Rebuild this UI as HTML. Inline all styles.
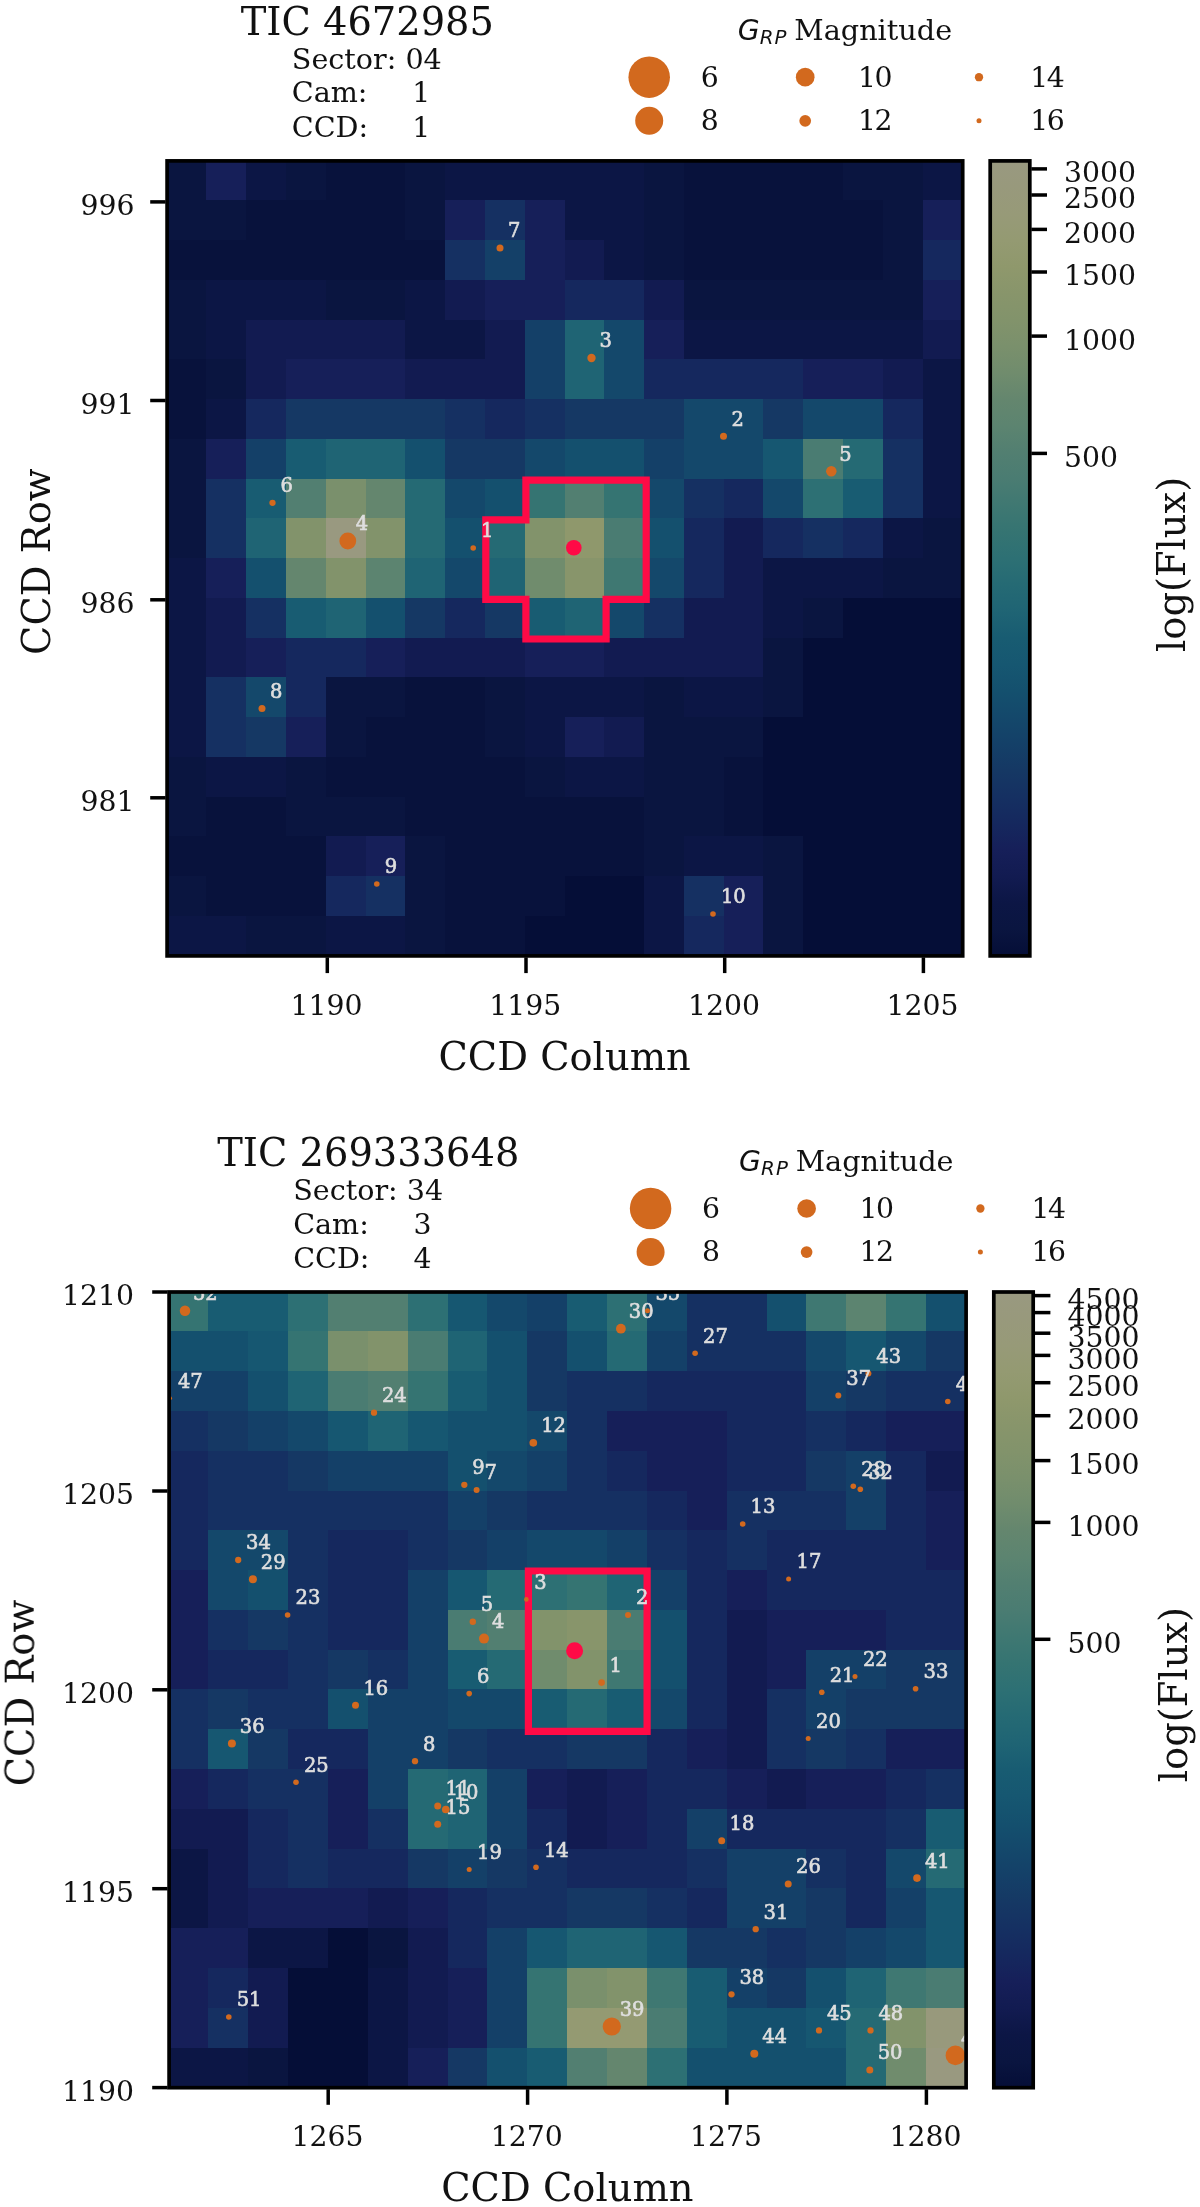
<!DOCTYPE html>
<html lang="en"><head><meta charset="utf-8"><title>TESS target pixel files</title>
<style>html,body{margin:0;padding:0;background:#fff}svg{display:block}text{font-family:'DejaVu Serif','Liberation Serif',serif;fill:#111}.t28{font-size:28.3px}.th{font-size:28.6px}.t38{font-size:38.4px}.sl{font-size:19.5px;fill:#dedede;stroke:#dedede;stroke-width:.65px}.sp{stroke:#000;stroke-width:3.7;fill:none}.tk{stroke:#000;stroke-width:3.5}</style></head><body>
<svg width="1200" height="2207" viewBox="0 0 1200 2207">
<defs><linearGradient id="cb" x1="0" y1="1" x2="0" y2="0">
<stop offset="0.0000" stop-color="#050e37"/>
<stop offset="0.0333" stop-color="#0a1540"/>
<stop offset="0.0667" stop-color="#0c1645"/>
<stop offset="0.1000" stop-color="#121b51"/>
<stop offset="0.1333" stop-color="#161f59"/>
<stop offset="0.1667" stop-color="#15285e"/>
<stop offset="0.2000" stop-color="#153062"/>
<stop offset="0.2333" stop-color="#153864"/>
<stop offset="0.2667" stop-color="#144068"/>
<stop offset="0.3000" stop-color="#14486b"/>
<stop offset="0.3333" stop-color="#14506e"/>
<stop offset="0.3667" stop-color="#165771"/>
<stop offset="0.4000" stop-color="#185c72"/>
<stop offset="0.4333" stop-color="#1f6474"/>
<stop offset="0.4667" stop-color="#256a74"/>
<stop offset="0.5000" stop-color="#2d7074"/>
<stop offset="0.5333" stop-color="#357472"/>
<stop offset="0.5667" stop-color="#3f7872"/>
<stop offset="0.6000" stop-color="#4a7c72"/>
<stop offset="0.6333" stop-color="#527f71"/>
<stop offset="0.6667" stop-color="#5c8470"/>
<stop offset="0.7000" stop-color="#64866e"/>
<stop offset="0.7333" stop-color="#708c6d"/>
<stop offset="0.7667" stop-color="#7a906c"/>
<stop offset="0.8000" stop-color="#82936b"/>
<stop offset="0.8333" stop-color="#88956b"/>
<stop offset="0.8667" stop-color="#8f986c"/>
<stop offset="0.9000" stop-color="#949a72"/>
<stop offset="0.9333" stop-color="#979a78"/>
<stop offset="0.9667" stop-color="#98997c"/>
<stop offset="1.0000" stop-color="#999980"/>
</linearGradient><filter id="soft" color-interpolation-filters="sRGB" x="0" y="0" width="1200" height="2207" filterUnits="userSpaceOnUse"><feGaussianBlur stdDeviation="0.6"/></filter></defs>
<rect width="1200" height="2207" fill="#fff"/>
<g filter="url(#soft)">
<rect width="1200" height="2207" fill="#fff"/>
<g id="p1">
<clipPath id="cp1"><rect x="167.1" y="160.9" width="795.6" height="795.0"/></clipPath>
<g shape-rendering="crispEdges">
<rect x="166.70" y="160.50" width="40.38" height="40.35" fill="#0a1540"/>
<rect x="206.48" y="160.50" width="40.38" height="40.35" fill="#161f59"/>
<rect x="246.27" y="160.50" width="40.39" height="40.35" fill="#0c1645"/>
<rect x="286.06" y="160.50" width="40.38" height="40.35" fill="#0a1540"/>
<rect x="325.84" y="160.50" width="80.17" height="40.35" fill="#08123c"/>
<rect x="405.41" y="160.50" width="40.38" height="40.35" fill="#0a1540"/>
<rect x="445.19" y="160.50" width="199.53" height="40.35" fill="#0c1645"/>
<rect x="644.12" y="160.50" width="40.38" height="40.35" fill="#0a1540"/>
<rect x="683.91" y="160.50" width="159.74" height="40.35" fill="#08123c"/>
<rect x="843.05" y="160.50" width="80.17" height="40.35" fill="#0a1540"/>
<rect x="922.62" y="160.50" width="40.38" height="40.35" fill="#0c1645"/>
<rect x="166.70" y="200.25" width="80.17" height="40.35" fill="#0a1540"/>
<rect x="246.27" y="200.25" width="159.74" height="40.35" fill="#08123c"/>
<rect x="405.41" y="200.25" width="40.38" height="40.35" fill="#0a1540"/>
<rect x="445.19" y="200.25" width="40.39" height="40.35" fill="#161f59"/>
<rect x="484.98" y="200.25" width="40.39" height="40.35" fill="#153062"/>
<rect x="524.77" y="200.25" width="40.38" height="40.35" fill="#161f59"/>
<rect x="564.55" y="200.25" width="80.17" height="40.35" fill="#0c1645"/>
<rect x="644.12" y="200.25" width="40.38" height="40.35" fill="#0a1540"/>
<rect x="683.91" y="200.25" width="199.53" height="40.35" fill="#08123c"/>
<rect x="882.83" y="200.25" width="40.38" height="40.35" fill="#0a1540"/>
<rect x="922.62" y="200.25" width="40.38" height="40.35" fill="#161f59"/>
<rect x="166.70" y="240.01" width="279.10" height="40.35" fill="#08123c"/>
<rect x="445.19" y="240.01" width="40.39" height="40.35" fill="#153062"/>
<rect x="484.98" y="240.01" width="40.39" height="40.35" fill="#144068"/>
<rect x="524.77" y="240.01" width="40.38" height="40.35" fill="#161f59"/>
<rect x="564.55" y="240.01" width="40.38" height="40.35" fill="#121b51"/>
<rect x="604.34" y="240.01" width="40.39" height="40.35" fill="#0c1645"/>
<rect x="644.12" y="240.01" width="40.38" height="40.35" fill="#0a1540"/>
<rect x="683.91" y="240.01" width="199.53" height="40.35" fill="#08123c"/>
<rect x="882.83" y="240.01" width="40.38" height="40.35" fill="#0a1540"/>
<rect x="922.62" y="240.01" width="40.38" height="40.35" fill="#15285e"/>
<rect x="166.70" y="279.76" width="40.38" height="40.35" fill="#0a1540"/>
<rect x="206.48" y="279.76" width="119.95" height="40.35" fill="#0c1645"/>
<rect x="325.84" y="279.76" width="80.17" height="40.35" fill="#0a1540"/>
<rect x="405.41" y="279.76" width="40.38" height="40.35" fill="#0c1645"/>
<rect x="445.19" y="279.76" width="40.39" height="40.35" fill="#121b51"/>
<rect x="484.98" y="279.76" width="80.17" height="40.35" fill="#161f59"/>
<rect x="564.55" y="279.76" width="80.17" height="40.35" fill="#15285e"/>
<rect x="644.12" y="279.76" width="40.38" height="40.35" fill="#121b51"/>
<rect x="683.91" y="279.76" width="239.31" height="40.35" fill="#0a1540"/>
<rect x="922.62" y="279.76" width="40.38" height="40.35" fill="#161f59"/>
<rect x="166.70" y="319.52" width="40.38" height="40.35" fill="#0a1540"/>
<rect x="206.48" y="319.52" width="40.38" height="40.35" fill="#0c1645"/>
<rect x="246.27" y="319.52" width="159.74" height="40.35" fill="#121b51"/>
<rect x="405.41" y="319.52" width="80.17" height="40.35" fill="#0c1645"/>
<rect x="484.98" y="319.52" width="40.39" height="40.35" fill="#121b51"/>
<rect x="524.77" y="319.52" width="40.38" height="40.35" fill="#144068"/>
<rect x="564.55" y="319.52" width="40.38" height="40.35" fill="#1f6474"/>
<rect x="604.34" y="319.52" width="40.39" height="40.35" fill="#14486b"/>
<rect x="644.12" y="319.52" width="40.38" height="40.35" fill="#161f59"/>
<rect x="683.91" y="319.52" width="239.31" height="40.35" fill="#0c1645"/>
<rect x="922.62" y="319.52" width="40.38" height="40.35" fill="#121b51"/>
<rect x="166.70" y="359.27" width="40.38" height="40.35" fill="#08123c"/>
<rect x="206.48" y="359.27" width="40.38" height="40.35" fill="#0a1540"/>
<rect x="246.27" y="359.27" width="40.39" height="40.35" fill="#121b51"/>
<rect x="286.06" y="359.27" width="119.96" height="40.35" fill="#161f59"/>
<rect x="405.41" y="359.27" width="119.96" height="40.35" fill="#121b51"/>
<rect x="524.77" y="359.27" width="40.38" height="40.35" fill="#144068"/>
<rect x="564.55" y="359.27" width="40.38" height="40.35" fill="#1f6474"/>
<rect x="604.34" y="359.27" width="40.39" height="40.35" fill="#14486b"/>
<rect x="644.12" y="359.27" width="159.74" height="40.35" fill="#15285e"/>
<rect x="803.26" y="359.27" width="80.17" height="40.35" fill="#161f59"/>
<rect x="882.83" y="359.27" width="40.38" height="40.35" fill="#121b51"/>
<rect x="922.62" y="359.27" width="40.38" height="40.35" fill="#0c1645"/>
<rect x="166.70" y="399.03" width="40.38" height="40.35" fill="#08123c"/>
<rect x="206.48" y="399.03" width="40.38" height="40.35" fill="#0c1645"/>
<rect x="246.27" y="399.03" width="40.39" height="40.35" fill="#15285e"/>
<rect x="286.06" y="399.03" width="159.74" height="40.35" fill="#153864"/>
<rect x="445.19" y="399.03" width="40.39" height="40.35" fill="#153062"/>
<rect x="484.98" y="399.03" width="40.39" height="40.35" fill="#15285e"/>
<rect x="524.77" y="399.03" width="40.38" height="40.35" fill="#153062"/>
<rect x="564.55" y="399.03" width="119.96" height="40.35" fill="#153864"/>
<rect x="683.91" y="399.03" width="80.17" height="40.35" fill="#14486b"/>
<rect x="763.48" y="399.03" width="40.38" height="40.35" fill="#153864"/>
<rect x="803.26" y="399.03" width="80.17" height="40.35" fill="#14486b"/>
<rect x="882.83" y="399.03" width="40.38" height="40.35" fill="#15285e"/>
<rect x="922.62" y="399.03" width="40.38" height="40.35" fill="#0c1645"/>
<rect x="166.70" y="438.78" width="40.38" height="40.35" fill="#0a1540"/>
<rect x="206.48" y="438.78" width="40.38" height="40.35" fill="#161f59"/>
<rect x="246.27" y="438.78" width="40.39" height="40.35" fill="#144068"/>
<rect x="286.06" y="438.78" width="40.38" height="40.35" fill="#185c72"/>
<rect x="325.84" y="438.78" width="80.17" height="40.35" fill="#1f6474"/>
<rect x="405.41" y="438.78" width="40.38" height="40.35" fill="#14506e"/>
<rect x="445.19" y="438.78" width="80.17" height="40.35" fill="#153864"/>
<rect x="524.77" y="438.78" width="40.38" height="40.35" fill="#14486b"/>
<rect x="564.55" y="438.78" width="80.17" height="40.35" fill="#14506e"/>
<rect x="644.12" y="438.78" width="40.38" height="40.35" fill="#144068"/>
<rect x="683.91" y="438.78" width="80.17" height="40.35" fill="#14486b"/>
<rect x="763.48" y="438.78" width="40.38" height="40.35" fill="#165771"/>
<rect x="803.26" y="438.78" width="40.38" height="40.35" fill="#4a7c72"/>
<rect x="843.05" y="438.78" width="40.39" height="40.35" fill="#256a74"/>
<rect x="882.83" y="438.78" width="40.38" height="40.35" fill="#153062"/>
<rect x="922.62" y="438.78" width="40.38" height="40.35" fill="#0c1645"/>
<rect x="166.70" y="478.54" width="40.38" height="40.36" fill="#0a1540"/>
<rect x="206.48" y="478.54" width="40.38" height="40.36" fill="#153062"/>
<rect x="246.27" y="478.54" width="40.39" height="40.36" fill="#185c72"/>
<rect x="286.06" y="478.54" width="40.38" height="40.36" fill="#527f71"/>
<rect x="325.84" y="478.54" width="40.39" height="40.36" fill="#7a906c"/>
<rect x="365.62" y="478.54" width="40.39" height="40.36" fill="#64866e"/>
<rect x="405.41" y="478.54" width="40.38" height="40.36" fill="#256a74"/>
<rect x="445.19" y="478.54" width="40.39" height="40.36" fill="#14486b"/>
<rect x="484.98" y="478.54" width="40.39" height="40.36" fill="#14506e"/>
<rect x="524.77" y="478.54" width="40.38" height="40.36" fill="#357472"/>
<rect x="564.55" y="478.54" width="40.38" height="40.36" fill="#527f71"/>
<rect x="604.34" y="478.54" width="40.39" height="40.36" fill="#357472"/>
<rect x="644.12" y="478.54" width="40.38" height="40.36" fill="#14486b"/>
<rect x="683.91" y="478.54" width="40.38" height="40.36" fill="#153062"/>
<rect x="723.69" y="478.54" width="40.39" height="40.36" fill="#15285e"/>
<rect x="763.48" y="478.54" width="40.38" height="40.36" fill="#14486b"/>
<rect x="803.26" y="478.54" width="40.38" height="40.36" fill="#2d7074"/>
<rect x="843.05" y="478.54" width="40.39" height="40.36" fill="#185c72"/>
<rect x="882.83" y="478.54" width="40.38" height="40.36" fill="#153062"/>
<rect x="922.62" y="478.54" width="40.38" height="40.36" fill="#0c1645"/>
<rect x="166.70" y="518.30" width="40.38" height="40.35" fill="#0a1540"/>
<rect x="206.48" y="518.30" width="40.38" height="40.35" fill="#153062"/>
<rect x="246.27" y="518.30" width="40.39" height="40.35" fill="#1f6474"/>
<rect x="286.06" y="518.30" width="40.38" height="40.35" fill="#82936b"/>
<rect x="325.84" y="518.30" width="40.39" height="40.35" fill="#999980"/>
<rect x="365.62" y="518.30" width="40.39" height="40.35" fill="#82936b"/>
<rect x="405.41" y="518.30" width="40.38" height="40.35" fill="#256a74"/>
<rect x="445.19" y="518.30" width="40.39" height="40.35" fill="#14506e"/>
<rect x="484.98" y="518.30" width="40.39" height="40.35" fill="#256a74"/>
<rect x="524.77" y="518.30" width="40.38" height="40.35" fill="#82936b"/>
<rect x="564.55" y="518.30" width="40.38" height="40.35" fill="#8f986c"/>
<rect x="604.34" y="518.30" width="40.39" height="40.35" fill="#4a7c72"/>
<rect x="644.12" y="518.30" width="40.38" height="40.35" fill="#14506e"/>
<rect x="683.91" y="518.30" width="40.38" height="40.35" fill="#15285e"/>
<rect x="723.69" y="518.30" width="40.39" height="40.35" fill="#121b51"/>
<rect x="763.48" y="518.30" width="40.38" height="40.35" fill="#15285e"/>
<rect x="803.26" y="518.30" width="40.38" height="40.35" fill="#153062"/>
<rect x="843.05" y="518.30" width="40.39" height="40.35" fill="#15285e"/>
<rect x="882.83" y="518.30" width="40.38" height="40.35" fill="#0c1645"/>
<rect x="922.62" y="518.30" width="40.38" height="40.35" fill="#0a1540"/>
<rect x="166.70" y="558.05" width="40.38" height="40.36" fill="#0c1645"/>
<rect x="206.48" y="558.05" width="40.38" height="40.36" fill="#161f59"/>
<rect x="246.27" y="558.05" width="40.39" height="40.36" fill="#14506e"/>
<rect x="286.06" y="558.05" width="40.38" height="40.36" fill="#64866e"/>
<rect x="325.84" y="558.05" width="40.39" height="40.36" fill="#82936b"/>
<rect x="365.62" y="558.05" width="40.39" height="40.36" fill="#5c8470"/>
<rect x="405.41" y="558.05" width="40.38" height="40.36" fill="#1f6474"/>
<rect x="445.19" y="558.05" width="40.39" height="40.36" fill="#14486b"/>
<rect x="484.98" y="558.05" width="40.39" height="40.36" fill="#1f6474"/>
<rect x="524.77" y="558.05" width="40.38" height="40.36" fill="#708c6d"/>
<rect x="564.55" y="558.05" width="40.38" height="40.36" fill="#88956b"/>
<rect x="604.34" y="558.05" width="40.39" height="40.36" fill="#3f7872"/>
<rect x="644.12" y="558.05" width="40.38" height="40.36" fill="#14486b"/>
<rect x="683.91" y="558.05" width="40.38" height="40.36" fill="#15285e"/>
<rect x="723.69" y="558.05" width="40.39" height="40.36" fill="#121b51"/>
<rect x="763.48" y="558.05" width="119.96" height="40.36" fill="#0c1645"/>
<rect x="882.83" y="558.05" width="80.17" height="40.36" fill="#0a1540"/>
<rect x="166.70" y="597.81" width="40.38" height="40.35" fill="#0c1645"/>
<rect x="206.48" y="597.81" width="40.38" height="40.35" fill="#121b51"/>
<rect x="246.27" y="597.81" width="40.39" height="40.35" fill="#153062"/>
<rect x="286.06" y="597.81" width="40.38" height="40.35" fill="#185c72"/>
<rect x="325.84" y="597.81" width="40.39" height="40.35" fill="#1f6474"/>
<rect x="365.62" y="597.81" width="40.39" height="40.35" fill="#14506e"/>
<rect x="405.41" y="597.81" width="40.38" height="40.35" fill="#153864"/>
<rect x="445.19" y="597.81" width="40.39" height="40.35" fill="#15285e"/>
<rect x="484.98" y="597.81" width="40.39" height="40.35" fill="#153864"/>
<rect x="524.77" y="597.81" width="40.38" height="40.35" fill="#185c72"/>
<rect x="564.55" y="597.81" width="40.38" height="40.35" fill="#1f6474"/>
<rect x="604.34" y="597.81" width="40.39" height="40.35" fill="#14486b"/>
<rect x="644.12" y="597.81" width="40.38" height="40.35" fill="#153062"/>
<rect x="683.91" y="597.81" width="80.17" height="40.35" fill="#121b51"/>
<rect x="763.48" y="597.81" width="40.38" height="40.35" fill="#0c1645"/>
<rect x="803.26" y="597.81" width="40.38" height="40.35" fill="#0a1540"/>
<rect x="843.05" y="597.81" width="119.96" height="40.35" fill="#050e37"/>
<rect x="166.70" y="637.56" width="40.38" height="40.36" fill="#0c1645"/>
<rect x="206.48" y="637.56" width="40.38" height="40.36" fill="#121b51"/>
<rect x="246.27" y="637.56" width="40.39" height="40.36" fill="#161f59"/>
<rect x="286.06" y="637.56" width="80.17" height="40.36" fill="#15285e"/>
<rect x="365.62" y="637.56" width="40.39" height="40.36" fill="#161f59"/>
<rect x="405.41" y="637.56" width="119.96" height="40.36" fill="#121b51"/>
<rect x="524.77" y="637.56" width="80.17" height="40.36" fill="#161f59"/>
<rect x="604.34" y="637.56" width="159.74" height="40.36" fill="#121b51"/>
<rect x="763.48" y="637.56" width="40.38" height="40.36" fill="#0a1540"/>
<rect x="803.26" y="637.56" width="159.74" height="40.36" fill="#050e37"/>
<rect x="166.70" y="677.32" width="40.38" height="40.35" fill="#0c1645"/>
<rect x="206.48" y="677.32" width="40.38" height="40.35" fill="#153062"/>
<rect x="246.27" y="677.32" width="40.39" height="40.35" fill="#14486b"/>
<rect x="286.06" y="677.32" width="40.38" height="40.35" fill="#15285e"/>
<rect x="325.84" y="677.32" width="80.17" height="40.35" fill="#0a1540"/>
<rect x="405.41" y="677.32" width="80.17" height="40.35" fill="#08123c"/>
<rect x="484.98" y="677.32" width="40.39" height="40.35" fill="#0a1540"/>
<rect x="524.77" y="677.32" width="119.96" height="40.35" fill="#0c1645"/>
<rect x="644.12" y="677.32" width="40.38" height="40.35" fill="#0a1540"/>
<rect x="683.91" y="677.32" width="80.17" height="40.35" fill="#0c1645"/>
<rect x="763.48" y="677.32" width="40.38" height="40.35" fill="#0a1540"/>
<rect x="803.26" y="677.32" width="159.74" height="40.35" fill="#050e37"/>
<rect x="166.70" y="717.07" width="40.38" height="40.36" fill="#0c1645"/>
<rect x="206.48" y="717.07" width="40.38" height="40.36" fill="#153062"/>
<rect x="246.27" y="717.07" width="40.39" height="40.36" fill="#153864"/>
<rect x="286.06" y="717.07" width="40.38" height="40.36" fill="#161f59"/>
<rect x="325.84" y="717.07" width="40.39" height="40.36" fill="#0a1540"/>
<rect x="365.62" y="717.07" width="119.96" height="40.36" fill="#08123c"/>
<rect x="484.98" y="717.07" width="40.39" height="40.36" fill="#0a1540"/>
<rect x="524.77" y="717.07" width="40.38" height="40.36" fill="#0c1645"/>
<rect x="564.55" y="717.07" width="40.38" height="40.36" fill="#161f59"/>
<rect x="604.34" y="717.07" width="40.39" height="40.36" fill="#121b51"/>
<rect x="644.12" y="717.07" width="119.96" height="40.36" fill="#0a1540"/>
<rect x="763.48" y="717.07" width="199.52" height="40.36" fill="#050e37"/>
<rect x="166.70" y="756.83" width="40.38" height="40.35" fill="#0a1540"/>
<rect x="206.48" y="756.83" width="80.17" height="40.35" fill="#0c1645"/>
<rect x="286.06" y="756.83" width="40.38" height="40.35" fill="#0a1540"/>
<rect x="325.84" y="756.83" width="199.53" height="40.35" fill="#08123c"/>
<rect x="524.77" y="756.83" width="40.38" height="40.35" fill="#0a1540"/>
<rect x="564.55" y="756.83" width="80.17" height="40.35" fill="#0c1645"/>
<rect x="644.12" y="756.83" width="80.17" height="40.35" fill="#0a1540"/>
<rect x="723.69" y="756.83" width="40.39" height="40.35" fill="#08123c"/>
<rect x="763.48" y="756.83" width="199.52" height="40.35" fill="#050e37"/>
<rect x="166.70" y="796.58" width="40.38" height="40.36" fill="#0a1540"/>
<rect x="206.48" y="796.58" width="80.17" height="40.36" fill="#08123c"/>
<rect x="286.06" y="796.58" width="119.96" height="40.36" fill="#0a1540"/>
<rect x="405.41" y="796.58" width="239.31" height="40.36" fill="#08123c"/>
<rect x="644.12" y="796.58" width="80.17" height="40.36" fill="#0a1540"/>
<rect x="723.69" y="796.58" width="40.39" height="40.36" fill="#08123c"/>
<rect x="763.48" y="796.58" width="199.52" height="40.36" fill="#050e37"/>
<rect x="166.70" y="836.34" width="159.74" height="40.35" fill="#08123c"/>
<rect x="325.84" y="836.34" width="40.39" height="40.35" fill="#121b51"/>
<rect x="365.62" y="836.34" width="40.39" height="40.35" fill="#161f59"/>
<rect x="405.41" y="836.34" width="40.38" height="40.35" fill="#0a1540"/>
<rect x="445.19" y="836.34" width="199.53" height="40.35" fill="#08123c"/>
<rect x="644.12" y="836.34" width="40.38" height="40.35" fill="#0a1540"/>
<rect x="683.91" y="836.34" width="80.17" height="40.35" fill="#0c1645"/>
<rect x="763.48" y="836.34" width="40.38" height="40.35" fill="#0a1540"/>
<rect x="803.26" y="836.34" width="159.74" height="40.35" fill="#050e37"/>
<rect x="166.70" y="876.09" width="40.38" height="40.36" fill="#0a1540"/>
<rect x="206.48" y="876.09" width="119.95" height="40.36" fill="#08123c"/>
<rect x="325.84" y="876.09" width="40.39" height="40.36" fill="#15285e"/>
<rect x="365.62" y="876.09" width="40.39" height="40.36" fill="#153062"/>
<rect x="405.41" y="876.09" width="40.38" height="40.36" fill="#0a1540"/>
<rect x="445.19" y="876.09" width="119.96" height="40.36" fill="#08123c"/>
<rect x="564.55" y="876.09" width="80.17" height="40.36" fill="#050e37"/>
<rect x="644.12" y="876.09" width="40.38" height="40.36" fill="#0c1645"/>
<rect x="683.91" y="876.09" width="40.38" height="40.36" fill="#153062"/>
<rect x="723.69" y="876.09" width="40.39" height="40.36" fill="#161f59"/>
<rect x="763.48" y="876.09" width="40.38" height="40.36" fill="#0a1540"/>
<rect x="803.26" y="876.09" width="159.74" height="40.36" fill="#050e37"/>
<rect x="166.70" y="915.85" width="80.17" height="40.35" fill="#0c1645"/>
<rect x="246.27" y="915.85" width="80.17" height="40.35" fill="#0a1540"/>
<rect x="325.84" y="915.85" width="80.17" height="40.35" fill="#0c1645"/>
<rect x="405.41" y="915.85" width="40.38" height="40.35" fill="#0a1540"/>
<rect x="445.19" y="915.85" width="80.17" height="40.35" fill="#08123c"/>
<rect x="524.77" y="915.85" width="119.96" height="40.35" fill="#050e37"/>
<rect x="644.12" y="915.85" width="40.38" height="40.35" fill="#0c1645"/>
<rect x="683.91" y="915.85" width="40.38" height="40.35" fill="#15285e"/>
<rect x="723.69" y="915.85" width="40.39" height="40.35" fill="#161f59"/>
<rect x="763.48" y="915.85" width="40.38" height="40.35" fill="#0a1540"/>
<rect x="803.26" y="915.85" width="159.74" height="40.35" fill="#050e37"/>
</g>
<polygon points="525.9,480.1 646.2,480.1 646.2,599.3 606.1,599.3 606.1,639.0 525.9,639.0 525.9,599.3 485.8,599.3 485.8,519.8 525.9,519.8" fill="none" stroke="#ff0a46" stroke-width="7.2" stroke-linejoin="miter"/>
<g clip-path="url(#cp1)">
<circle cx="500.0" cy="248.0" r="3.50" fill="#d2691e"/>
<circle cx="272.5" cy="502.8" r="3.15" fill="#d2691e"/>
<circle cx="347.8" cy="541.0" r="8.40" fill="#d2691e"/>
<circle cx="473.2" cy="548.0" r="2.80" fill="#d2691e"/>
<circle cx="591.5" cy="358.0" r="4.20" fill="#d2691e"/>
<circle cx="723.5" cy="436.3" r="3.50" fill="#d2691e"/>
<circle cx="831.3" cy="471.3" r="5.25" fill="#d2691e"/>
<circle cx="262.0" cy="708.6" r="3.50" fill="#d2691e"/>
<circle cx="376.8" cy="884.0" r="2.80" fill="#d2691e"/>
<circle cx="713.0" cy="914.0" r="2.80" fill="#d2691e"/>
<circle cx="573.8" cy="547.7" r="7.80" fill="#ff0a46"/>
<text class="sl" x="507.9" y="237.4">7</text>
<text class="sl" x="280.4" y="492.2">6</text>
<text class="sl" x="355.7" y="530.4">4</text>
<text class="sl" x="481.1" y="537.4">1</text>
<text class="sl" x="599.4" y="347.4">3</text>
<text class="sl" x="731.4" y="425.7">2</text>
<text class="sl" x="839.2" y="460.7">5</text>
<text class="sl" x="269.9" y="698.0">8</text>
<text class="sl" x="384.7" y="873.4">9</text>
<text class="sl" x="720.9" y="903.4">10</text>
</g>
<rect class="sp" x="167.1" y="160.9" width="795.6" height="795.0"/>
<line class="tk" x1="327.3" y1="957.4" x2="327.3" y2="973.1"/>
<text class="t28" text-anchor="middle" x="326.5" y="1014.8">1190</text>
<line class="tk" x1="526.0" y1="957.4" x2="526.0" y2="973.1"/>
<text class="t28" text-anchor="middle" x="525.2" y="1014.8">1195</text>
<line class="tk" x1="724.7" y1="957.4" x2="724.7" y2="973.1"/>
<text class="t28" text-anchor="middle" x="723.9" y="1014.8">1200</text>
<line class="tk" x1="923.4" y1="957.4" x2="923.4" y2="973.1"/>
<text class="t28" text-anchor="middle" x="922.6" y="1014.8">1205</text>
<line class="tk" x1="165.6" y1="201.9" x2="150.2" y2="201.9"/>
<text class="t28" text-anchor="end" x="134.5" y="215.1">996</text>
<line class="tk" x1="165.6" y1="400.5" x2="150.2" y2="400.5"/>
<text class="t28" text-anchor="end" x="134.5" y="413.7">991</text>
<line class="tk" x1="165.6" y1="599.8" x2="150.2" y2="599.8"/>
<text class="t28" text-anchor="end" x="134.5" y="613.0">986</text>
<line class="tk" x1="165.6" y1="797.8" x2="150.2" y2="797.8"/>
<text class="t28" text-anchor="end" x="134.5" y="811.0">981</text>
<text class="t38" text-anchor="middle" x="564.6" y="1069.8">CCD Column</text>
<text class="t38" text-anchor="middle" transform="translate(50.2,561.6) rotate(-90)">CCD Row</text>
<rect x="990.2" y="160.9" width="39.6" height="795.0" fill="url(#cb)" stroke="#000" stroke-width="3.7"/>
<line class="tk" x1="1031.3" y1="168.9" x2="1047.0" y2="168.9"/>
<text class="t28" x="1064.1" y="182.3">3000</text>
<line class="tk" x1="1031.3" y1="195.0" x2="1047.0" y2="195.0"/>
<text class="t28" x="1064.1" y="208.4">2500</text>
<line class="tk" x1="1031.3" y1="229.4" x2="1047.0" y2="229.4"/>
<text class="t28" x="1064.1" y="242.8">2000</text>
<line class="tk" x1="1031.3" y1="272.0" x2="1047.0" y2="272.0"/>
<text class="t28" x="1064.1" y="285.4">1500</text>
<line class="tk" x1="1031.3" y1="336.1" x2="1047.0" y2="336.1"/>
<text class="t28" x="1064.1" y="349.5">1000</text>
<line class="tk" x1="1031.3" y1="453.4" x2="1047.0" y2="453.4"/>
<text class="t28" x="1064.1" y="466.8">500</text>
<text class="t38" text-anchor="middle" transform="translate(1185.0,564.4) rotate(-90)">log(Flux)</text>
<text class="t38" text-anchor="middle" x="367.3" y="34.7">TIC 4672985</text>
<text class="th" x="291.8" y="68.9">Sector: 04</text>
<text class="th" x="291.8" y="102.3">Cam:</text>
<text class="t28" x="412.2" y="102.3">1</text>
<text class="th" x="291.8" y="136.7">CCD:</text>
<text class="t28" x="412.2" y="136.7">1</text>
<text class="t28" x="737.7" y="39.8"><tspan font-family="'DejaVu Sans','Liberation Sans',sans-serif" font-style="italic">G</tspan><tspan font-family="'DejaVu Sans','Liberation Sans',sans-serif" font-style="italic" font-size="19.8px" dy="4.2" letter-spacing="1.2">RP</tspan></text>
<text class="th" style="font-size:28.7px" x="794.3" y="39.8">Magnitude</text>
<circle cx="649.2" cy="77.2" r="20.75" fill="#d2691e"/>
<text class="t28" x="700.7" y="86.5">6</text>
<circle cx="649.2" cy="120.8" r="14.00" fill="#d2691e"/>
<text class="t28" x="700.7" y="130.1">8</text>
<circle cx="805.2" cy="77.2" r="9.35" fill="#d2691e"/>
<text class="t28" x="858.0" y="86.5" letter-spacing="-1.5">10</text>
<circle cx="805.2" cy="120.8" r="5.85" fill="#d2691e"/>
<text class="t28" x="858.0" y="130.1" letter-spacing="-1.5">12</text>
<circle cx="979.0" cy="77.2" r="4.15" fill="#d2691e"/>
<text class="t28" x="1030.2" y="86.5" letter-spacing="-1.5">14</text>
<circle cx="979.0" cy="120.8" r="2.50" fill="#d2691e"/>
<text class="t28" x="1030.2" y="130.1" letter-spacing="-1.5">16</text>
</g>
<g id="p2">
<clipPath id="cp2"><rect x="169.1" y="1292.0" width="797.0" height="795.7"/></clipPath>
<g shape-rendering="crispEdges">
<rect x="168.60" y="1291.60" width="40.46" height="40.39" fill="#357472"/>
<rect x="208.46" y="1291.60" width="80.32" height="40.39" fill="#185c72"/>
<rect x="288.18" y="1291.60" width="40.46" height="40.39" fill="#2d7074"/>
<rect x="328.04" y="1291.60" width="80.32" height="40.39" fill="#527f71"/>
<rect x="407.76" y="1291.60" width="40.46" height="40.39" fill="#2d7074"/>
<rect x="447.62" y="1291.60" width="40.46" height="40.39" fill="#165771"/>
<rect x="487.48" y="1291.60" width="40.46" height="40.39" fill="#14486b"/>
<rect x="527.34" y="1291.60" width="40.46" height="40.39" fill="#144068"/>
<rect x="567.20" y="1291.60" width="40.46" height="40.39" fill="#185c72"/>
<rect x="607.06" y="1291.60" width="40.46" height="40.39" fill="#2d7074"/>
<rect x="646.92" y="1291.60" width="40.46" height="40.39" fill="#14486b"/>
<rect x="686.78" y="1291.60" width="80.32" height="40.39" fill="#153062"/>
<rect x="766.50" y="1291.60" width="40.46" height="40.39" fill="#14506e"/>
<rect x="806.36" y="1291.60" width="40.46" height="40.39" fill="#3f7872"/>
<rect x="846.22" y="1291.60" width="40.46" height="40.39" fill="#5c8470"/>
<rect x="886.08" y="1291.60" width="40.46" height="40.39" fill="#357472"/>
<rect x="925.94" y="1291.60" width="40.46" height="40.39" fill="#14506e"/>
<rect x="168.60" y="1331.39" width="80.32" height="40.38" fill="#14506e"/>
<rect x="248.32" y="1331.39" width="40.46" height="40.38" fill="#165771"/>
<rect x="288.18" y="1331.39" width="40.46" height="40.38" fill="#357472"/>
<rect x="328.04" y="1331.39" width="40.46" height="40.38" fill="#7a906c"/>
<rect x="367.90" y="1331.39" width="40.46" height="40.38" fill="#82936b"/>
<rect x="407.76" y="1331.39" width="40.46" height="40.38" fill="#4a7c72"/>
<rect x="447.62" y="1331.39" width="40.46" height="40.38" fill="#1f6474"/>
<rect x="487.48" y="1331.39" width="40.46" height="40.38" fill="#14506e"/>
<rect x="527.34" y="1331.39" width="40.46" height="40.38" fill="#153864"/>
<rect x="567.20" y="1331.39" width="40.46" height="40.38" fill="#14506e"/>
<rect x="607.06" y="1331.39" width="40.46" height="40.38" fill="#256a74"/>
<rect x="646.92" y="1331.39" width="40.46" height="40.38" fill="#144068"/>
<rect x="686.78" y="1331.39" width="120.18" height="40.38" fill="#153062"/>
<rect x="806.36" y="1331.39" width="40.46" height="40.38" fill="#14486b"/>
<rect x="846.22" y="1331.39" width="40.46" height="40.38" fill="#165771"/>
<rect x="886.08" y="1331.39" width="40.46" height="40.38" fill="#14486b"/>
<rect x="925.94" y="1331.39" width="40.46" height="40.38" fill="#153864"/>
<rect x="168.60" y="1371.17" width="80.32" height="40.39" fill="#144068"/>
<rect x="248.32" y="1371.17" width="40.46" height="40.39" fill="#14506e"/>
<rect x="288.18" y="1371.17" width="40.46" height="40.39" fill="#1f6474"/>
<rect x="328.04" y="1371.17" width="40.46" height="40.39" fill="#4a7c72"/>
<rect x="367.90" y="1371.17" width="40.46" height="40.39" fill="#527f71"/>
<rect x="407.76" y="1371.17" width="40.46" height="40.39" fill="#357472"/>
<rect x="447.62" y="1371.17" width="40.46" height="40.39" fill="#185c72"/>
<rect x="487.48" y="1371.17" width="40.46" height="40.39" fill="#14506e"/>
<rect x="527.34" y="1371.17" width="40.46" height="40.39" fill="#153864"/>
<rect x="567.20" y="1371.17" width="80.32" height="40.39" fill="#153062"/>
<rect x="646.92" y="1371.17" width="160.04" height="40.39" fill="#15285e"/>
<rect x="806.36" y="1371.17" width="40.46" height="40.39" fill="#144068"/>
<rect x="846.22" y="1371.17" width="40.46" height="40.39" fill="#153864"/>
<rect x="886.08" y="1371.17" width="80.32" height="40.39" fill="#153062"/>
<rect x="168.60" y="1410.96" width="40.46" height="40.38" fill="#153062"/>
<rect x="208.46" y="1410.96" width="40.46" height="40.38" fill="#153864"/>
<rect x="248.32" y="1410.96" width="40.46" height="40.38" fill="#144068"/>
<rect x="288.18" y="1410.96" width="40.46" height="40.38" fill="#14486b"/>
<rect x="328.04" y="1410.96" width="40.46" height="40.38" fill="#165771"/>
<rect x="367.90" y="1410.96" width="40.46" height="40.38" fill="#1f6474"/>
<rect x="407.76" y="1410.96" width="40.46" height="40.38" fill="#165771"/>
<rect x="447.62" y="1410.96" width="80.32" height="40.38" fill="#14506e"/>
<rect x="527.34" y="1410.96" width="40.46" height="40.38" fill="#14486b"/>
<rect x="567.20" y="1410.96" width="40.46" height="40.38" fill="#153062"/>
<rect x="607.06" y="1410.96" width="120.18" height="40.38" fill="#161f59"/>
<rect x="726.64" y="1410.96" width="80.32" height="40.38" fill="#15285e"/>
<rect x="806.36" y="1410.96" width="40.46" height="40.38" fill="#153062"/>
<rect x="846.22" y="1410.96" width="40.46" height="40.38" fill="#15285e"/>
<rect x="886.08" y="1410.96" width="80.32" height="40.38" fill="#161f59"/>
<rect x="168.60" y="1450.74" width="40.46" height="40.39" fill="#15285e"/>
<rect x="208.46" y="1450.74" width="80.32" height="40.39" fill="#153062"/>
<rect x="288.18" y="1450.74" width="40.46" height="40.39" fill="#153864"/>
<rect x="328.04" y="1450.74" width="120.18" height="40.39" fill="#144068"/>
<rect x="447.62" y="1450.74" width="40.46" height="40.39" fill="#14506e"/>
<rect x="487.48" y="1450.74" width="40.46" height="40.39" fill="#14486b"/>
<rect x="527.34" y="1450.74" width="40.46" height="40.39" fill="#144068"/>
<rect x="567.20" y="1450.74" width="40.46" height="40.39" fill="#153062"/>
<rect x="607.06" y="1450.74" width="40.46" height="40.39" fill="#15285e"/>
<rect x="646.92" y="1450.74" width="80.32" height="40.39" fill="#161f59"/>
<rect x="726.64" y="1450.74" width="80.32" height="40.39" fill="#15285e"/>
<rect x="806.36" y="1450.74" width="40.46" height="40.39" fill="#153864"/>
<rect x="846.22" y="1450.74" width="40.46" height="40.39" fill="#144068"/>
<rect x="886.08" y="1450.74" width="40.46" height="40.39" fill="#15285e"/>
<rect x="925.94" y="1450.74" width="40.46" height="40.39" fill="#121b51"/>
<rect x="168.60" y="1490.53" width="40.46" height="40.39" fill="#15285e"/>
<rect x="208.46" y="1490.53" width="239.76" height="40.39" fill="#153062"/>
<rect x="447.62" y="1490.53" width="40.46" height="40.39" fill="#144068"/>
<rect x="487.48" y="1490.53" width="40.46" height="40.39" fill="#153864"/>
<rect x="527.34" y="1490.53" width="120.18" height="40.39" fill="#153062"/>
<rect x="646.92" y="1490.53" width="40.46" height="40.39" fill="#15285e"/>
<rect x="686.78" y="1490.53" width="40.46" height="40.39" fill="#161f59"/>
<rect x="726.64" y="1490.53" width="120.18" height="40.39" fill="#153062"/>
<rect x="846.22" y="1490.53" width="40.46" height="40.39" fill="#144068"/>
<rect x="886.08" y="1490.53" width="40.46" height="40.39" fill="#15285e"/>
<rect x="925.94" y="1490.53" width="40.46" height="40.39" fill="#161f59"/>
<rect x="168.60" y="1530.31" width="40.46" height="40.38" fill="#15285e"/>
<rect x="208.46" y="1530.31" width="80.32" height="40.38" fill="#14486b"/>
<rect x="288.18" y="1530.31" width="40.46" height="40.38" fill="#153062"/>
<rect x="328.04" y="1530.31" width="80.32" height="40.38" fill="#15285e"/>
<rect x="407.76" y="1530.31" width="40.46" height="40.38" fill="#153062"/>
<rect x="447.62" y="1530.31" width="40.46" height="40.38" fill="#153864"/>
<rect x="487.48" y="1530.31" width="40.46" height="40.38" fill="#144068"/>
<rect x="527.34" y="1530.31" width="80.32" height="40.38" fill="#14486b"/>
<rect x="607.06" y="1530.31" width="40.46" height="40.38" fill="#144068"/>
<rect x="646.92" y="1530.31" width="40.46" height="40.38" fill="#153062"/>
<rect x="686.78" y="1530.31" width="40.46" height="40.38" fill="#15285e"/>
<rect x="726.64" y="1530.31" width="40.46" height="40.38" fill="#153062"/>
<rect x="766.50" y="1530.31" width="160.04" height="40.38" fill="#15285e"/>
<rect x="925.94" y="1530.31" width="40.46" height="40.38" fill="#161f59"/>
<rect x="168.60" y="1570.10" width="40.46" height="40.39" fill="#161f59"/>
<rect x="208.46" y="1570.10" width="40.46" height="40.39" fill="#14486b"/>
<rect x="248.32" y="1570.10" width="40.46" height="40.39" fill="#14506e"/>
<rect x="288.18" y="1570.10" width="40.46" height="40.39" fill="#153062"/>
<rect x="328.04" y="1570.10" width="80.32" height="40.39" fill="#15285e"/>
<rect x="407.76" y="1570.10" width="40.46" height="40.39" fill="#144068"/>
<rect x="447.62" y="1570.10" width="40.46" height="40.39" fill="#165771"/>
<rect x="487.48" y="1570.10" width="40.46" height="40.39" fill="#256a74"/>
<rect x="527.34" y="1570.10" width="40.46" height="40.39" fill="#2d7074"/>
<rect x="567.20" y="1570.10" width="40.46" height="40.39" fill="#357472"/>
<rect x="607.06" y="1570.10" width="40.46" height="40.39" fill="#1f6474"/>
<rect x="646.92" y="1570.10" width="40.46" height="40.39" fill="#144068"/>
<rect x="686.78" y="1570.10" width="40.46" height="40.39" fill="#15285e"/>
<rect x="726.64" y="1570.10" width="40.46" height="40.39" fill="#161f59"/>
<rect x="766.50" y="1570.10" width="199.90" height="40.39" fill="#15285e"/>
<rect x="168.60" y="1609.88" width="40.46" height="40.38" fill="#161f59"/>
<rect x="208.46" y="1609.88" width="40.46" height="40.38" fill="#153062"/>
<rect x="248.32" y="1609.88" width="40.46" height="40.38" fill="#153864"/>
<rect x="288.18" y="1609.88" width="40.46" height="40.38" fill="#153062"/>
<rect x="328.04" y="1609.88" width="80.32" height="40.38" fill="#15285e"/>
<rect x="407.76" y="1609.88" width="40.46" height="40.38" fill="#144068"/>
<rect x="447.62" y="1609.88" width="40.46" height="40.38" fill="#4a7c72"/>
<rect x="487.48" y="1609.88" width="40.46" height="40.38" fill="#527f71"/>
<rect x="527.34" y="1609.88" width="40.46" height="40.38" fill="#82936b"/>
<rect x="567.20" y="1609.88" width="40.46" height="40.38" fill="#88956b"/>
<rect x="607.06" y="1609.88" width="40.46" height="40.38" fill="#4a7c72"/>
<rect x="646.92" y="1609.88" width="40.46" height="40.38" fill="#14506e"/>
<rect x="686.78" y="1609.88" width="40.46" height="40.38" fill="#15285e"/>
<rect x="726.64" y="1609.88" width="40.46" height="40.38" fill="#121b51"/>
<rect x="766.50" y="1609.88" width="120.18" height="40.38" fill="#161f59"/>
<rect x="886.08" y="1609.88" width="80.32" height="40.38" fill="#15285e"/>
<rect x="168.60" y="1649.66" width="40.46" height="40.39" fill="#161f59"/>
<rect x="208.46" y="1649.66" width="80.32" height="40.39" fill="#15285e"/>
<rect x="288.18" y="1649.66" width="40.46" height="40.39" fill="#153062"/>
<rect x="328.04" y="1649.66" width="40.46" height="40.39" fill="#153864"/>
<rect x="367.90" y="1649.66" width="40.46" height="40.39" fill="#153062"/>
<rect x="407.76" y="1649.66" width="40.46" height="40.39" fill="#144068"/>
<rect x="447.62" y="1649.66" width="40.46" height="40.39" fill="#185c72"/>
<rect x="487.48" y="1649.66" width="40.46" height="40.39" fill="#256a74"/>
<rect x="527.34" y="1649.66" width="40.46" height="40.39" fill="#708c6d"/>
<rect x="567.20" y="1649.66" width="40.46" height="40.39" fill="#82936b"/>
<rect x="607.06" y="1649.66" width="40.46" height="40.39" fill="#3f7872"/>
<rect x="646.92" y="1649.66" width="40.46" height="40.39" fill="#14506e"/>
<rect x="686.78" y="1649.66" width="40.46" height="40.39" fill="#15285e"/>
<rect x="726.64" y="1649.66" width="40.46" height="40.39" fill="#121b51"/>
<rect x="766.50" y="1649.66" width="40.46" height="40.39" fill="#161f59"/>
<rect x="806.36" y="1649.66" width="80.32" height="40.39" fill="#144068"/>
<rect x="886.08" y="1649.66" width="80.32" height="40.39" fill="#153864"/>
<rect x="168.60" y="1689.45" width="40.46" height="40.38" fill="#153062"/>
<rect x="208.46" y="1689.45" width="40.46" height="40.38" fill="#153864"/>
<rect x="248.32" y="1689.45" width="80.32" height="40.38" fill="#153062"/>
<rect x="328.04" y="1689.45" width="40.46" height="40.38" fill="#14506e"/>
<rect x="367.90" y="1689.45" width="80.32" height="40.38" fill="#144068"/>
<rect x="447.62" y="1689.45" width="80.32" height="40.38" fill="#14486b"/>
<rect x="527.34" y="1689.45" width="40.46" height="40.38" fill="#185c72"/>
<rect x="567.20" y="1689.45" width="40.46" height="40.38" fill="#256a74"/>
<rect x="607.06" y="1689.45" width="40.46" height="40.38" fill="#185c72"/>
<rect x="646.92" y="1689.45" width="40.46" height="40.38" fill="#14486b"/>
<rect x="686.78" y="1689.45" width="40.46" height="40.38" fill="#15285e"/>
<rect x="726.64" y="1689.45" width="40.46" height="40.38" fill="#121b51"/>
<rect x="766.50" y="1689.45" width="40.46" height="40.38" fill="#153062"/>
<rect x="806.36" y="1689.45" width="40.46" height="40.38" fill="#144068"/>
<rect x="846.22" y="1689.45" width="120.18" height="40.38" fill="#153864"/>
<rect x="168.60" y="1729.23" width="40.46" height="40.39" fill="#153062"/>
<rect x="208.46" y="1729.23" width="40.46" height="40.39" fill="#165771"/>
<rect x="248.32" y="1729.23" width="40.46" height="40.39" fill="#153864"/>
<rect x="288.18" y="1729.23" width="80.32" height="40.39" fill="#15285e"/>
<rect x="367.90" y="1729.23" width="80.32" height="40.39" fill="#144068"/>
<rect x="447.62" y="1729.23" width="40.46" height="40.39" fill="#153864"/>
<rect x="487.48" y="1729.23" width="80.32" height="40.39" fill="#153062"/>
<rect x="567.20" y="1729.23" width="80.32" height="40.39" fill="#153864"/>
<rect x="646.92" y="1729.23" width="40.46" height="40.39" fill="#15285e"/>
<rect x="686.78" y="1729.23" width="40.46" height="40.39" fill="#161f59"/>
<rect x="726.64" y="1729.23" width="40.46" height="40.39" fill="#121b51"/>
<rect x="766.50" y="1729.23" width="40.46" height="40.39" fill="#153062"/>
<rect x="806.36" y="1729.23" width="40.46" height="40.39" fill="#153864"/>
<rect x="846.22" y="1729.23" width="40.46" height="40.39" fill="#153062"/>
<rect x="886.08" y="1729.23" width="80.32" height="40.39" fill="#161f59"/>
<rect x="168.60" y="1769.02" width="40.46" height="40.39" fill="#161f59"/>
<rect x="208.46" y="1769.02" width="40.46" height="40.39" fill="#15285e"/>
<rect x="248.32" y="1769.02" width="80.32" height="40.39" fill="#153062"/>
<rect x="328.04" y="1769.02" width="40.46" height="40.39" fill="#161f59"/>
<rect x="367.90" y="1769.02" width="40.46" height="40.39" fill="#144068"/>
<rect x="407.76" y="1769.02" width="40.46" height="40.39" fill="#256a74"/>
<rect x="447.62" y="1769.02" width="40.46" height="40.39" fill="#1f6474"/>
<rect x="487.48" y="1769.02" width="40.46" height="40.39" fill="#144068"/>
<rect x="527.34" y="1769.02" width="40.46" height="40.39" fill="#161f59"/>
<rect x="567.20" y="1769.02" width="40.46" height="40.39" fill="#121b51"/>
<rect x="607.06" y="1769.02" width="40.46" height="40.39" fill="#161f59"/>
<rect x="646.92" y="1769.02" width="80.32" height="40.39" fill="#15285e"/>
<rect x="726.64" y="1769.02" width="40.46" height="40.39" fill="#161f59"/>
<rect x="766.50" y="1769.02" width="40.46" height="40.39" fill="#121b51"/>
<rect x="806.36" y="1769.02" width="80.32" height="40.39" fill="#161f59"/>
<rect x="886.08" y="1769.02" width="40.46" height="40.39" fill="#15285e"/>
<rect x="925.94" y="1769.02" width="40.46" height="40.39" fill="#153062"/>
<rect x="168.60" y="1808.81" width="80.32" height="40.38" fill="#121b51"/>
<rect x="248.32" y="1808.81" width="40.46" height="40.38" fill="#15285e"/>
<rect x="288.18" y="1808.81" width="40.46" height="40.38" fill="#153062"/>
<rect x="328.04" y="1808.81" width="40.46" height="40.38" fill="#161f59"/>
<rect x="367.90" y="1808.81" width="40.46" height="40.38" fill="#153062"/>
<rect x="407.76" y="1808.81" width="40.46" height="40.38" fill="#256a74"/>
<rect x="447.62" y="1808.81" width="40.46" height="40.38" fill="#1f6474"/>
<rect x="487.48" y="1808.81" width="40.46" height="40.38" fill="#144068"/>
<rect x="527.34" y="1808.81" width="40.46" height="40.38" fill="#15285e"/>
<rect x="567.20" y="1808.81" width="40.46" height="40.38" fill="#121b51"/>
<rect x="607.06" y="1808.81" width="40.46" height="40.38" fill="#161f59"/>
<rect x="646.92" y="1808.81" width="40.46" height="40.38" fill="#15285e"/>
<rect x="686.78" y="1808.81" width="40.46" height="40.38" fill="#144068"/>
<rect x="726.64" y="1808.81" width="160.04" height="40.38" fill="#15285e"/>
<rect x="886.08" y="1808.81" width="40.46" height="40.38" fill="#153062"/>
<rect x="925.94" y="1808.81" width="40.46" height="40.38" fill="#185c72"/>
<rect x="168.60" y="1848.59" width="40.46" height="40.39" fill="#0c1645"/>
<rect x="208.46" y="1848.59" width="40.46" height="40.39" fill="#121b51"/>
<rect x="248.32" y="1848.59" width="40.46" height="40.39" fill="#15285e"/>
<rect x="288.18" y="1848.59" width="40.46" height="40.39" fill="#153062"/>
<rect x="328.04" y="1848.59" width="80.32" height="40.39" fill="#15285e"/>
<rect x="407.76" y="1848.59" width="40.46" height="40.39" fill="#153864"/>
<rect x="447.62" y="1848.59" width="40.46" height="40.39" fill="#144068"/>
<rect x="487.48" y="1848.59" width="40.46" height="40.39" fill="#153864"/>
<rect x="527.34" y="1848.59" width="40.46" height="40.39" fill="#153062"/>
<rect x="567.20" y="1848.59" width="120.18" height="40.39" fill="#15285e"/>
<rect x="686.78" y="1848.59" width="40.46" height="40.39" fill="#153062"/>
<rect x="726.64" y="1848.59" width="80.32" height="40.39" fill="#144068"/>
<rect x="806.36" y="1848.59" width="40.46" height="40.39" fill="#153062"/>
<rect x="846.22" y="1848.59" width="40.46" height="40.39" fill="#15285e"/>
<rect x="886.08" y="1848.59" width="40.46" height="40.39" fill="#14486b"/>
<rect x="925.94" y="1848.59" width="40.46" height="40.39" fill="#256a74"/>
<rect x="168.60" y="1888.38" width="40.46" height="40.39" fill="#0c1645"/>
<rect x="208.46" y="1888.38" width="40.46" height="40.39" fill="#121b51"/>
<rect x="248.32" y="1888.38" width="120.18" height="40.39" fill="#161f59"/>
<rect x="367.90" y="1888.38" width="40.46" height="40.39" fill="#121b51"/>
<rect x="407.76" y="1888.38" width="40.46" height="40.39" fill="#161f59"/>
<rect x="447.62" y="1888.38" width="40.46" height="40.39" fill="#15285e"/>
<rect x="487.48" y="1888.38" width="80.32" height="40.39" fill="#153062"/>
<rect x="567.20" y="1888.38" width="80.32" height="40.39" fill="#153864"/>
<rect x="646.92" y="1888.38" width="40.46" height="40.39" fill="#153062"/>
<rect x="686.78" y="1888.38" width="40.46" height="40.39" fill="#15285e"/>
<rect x="726.64" y="1888.38" width="80.32" height="40.39" fill="#144068"/>
<rect x="806.36" y="1888.38" width="40.46" height="40.39" fill="#153864"/>
<rect x="846.22" y="1888.38" width="40.46" height="40.39" fill="#15285e"/>
<rect x="886.08" y="1888.38" width="40.46" height="40.39" fill="#144068"/>
<rect x="925.94" y="1888.38" width="40.46" height="40.39" fill="#165771"/>
<rect x="168.60" y="1928.16" width="80.32" height="40.38" fill="#161f59"/>
<rect x="248.32" y="1928.16" width="80.32" height="40.38" fill="#0c1645"/>
<rect x="328.04" y="1928.16" width="40.46" height="40.38" fill="#050e37"/>
<rect x="367.90" y="1928.16" width="40.46" height="40.38" fill="#0a1540"/>
<rect x="407.76" y="1928.16" width="40.46" height="40.38" fill="#121b51"/>
<rect x="447.62" y="1928.16" width="40.46" height="40.38" fill="#15285e"/>
<rect x="487.48" y="1928.16" width="40.46" height="40.38" fill="#144068"/>
<rect x="527.34" y="1928.16" width="40.46" height="40.38" fill="#165771"/>
<rect x="567.20" y="1928.16" width="80.32" height="40.38" fill="#1f6474"/>
<rect x="646.92" y="1928.16" width="40.46" height="40.38" fill="#165771"/>
<rect x="686.78" y="1928.16" width="80.32" height="40.38" fill="#153864"/>
<rect x="766.50" y="1928.16" width="40.46" height="40.38" fill="#153062"/>
<rect x="806.36" y="1928.16" width="40.46" height="40.38" fill="#153864"/>
<rect x="846.22" y="1928.16" width="40.46" height="40.38" fill="#144068"/>
<rect x="886.08" y="1928.16" width="40.46" height="40.38" fill="#14486b"/>
<rect x="925.94" y="1928.16" width="40.46" height="40.38" fill="#165771"/>
<rect x="168.60" y="1967.94" width="40.46" height="40.38" fill="#161f59"/>
<rect x="208.46" y="1967.94" width="40.46" height="40.38" fill="#15285e"/>
<rect x="248.32" y="1967.94" width="40.46" height="40.38" fill="#121b51"/>
<rect x="288.18" y="1967.94" width="80.32" height="40.38" fill="#050e37"/>
<rect x="367.90" y="1967.94" width="40.46" height="40.38" fill="#0c1645"/>
<rect x="407.76" y="1967.94" width="40.46" height="40.38" fill="#121b51"/>
<rect x="447.62" y="1967.94" width="40.46" height="40.38" fill="#161f59"/>
<rect x="487.48" y="1967.94" width="40.46" height="40.38" fill="#144068"/>
<rect x="527.34" y="1967.94" width="40.46" height="40.38" fill="#357472"/>
<rect x="567.20" y="1967.94" width="40.46" height="40.38" fill="#7a906c"/>
<rect x="607.06" y="1967.94" width="40.46" height="40.38" fill="#82936b"/>
<rect x="646.92" y="1967.94" width="40.46" height="40.38" fill="#3f7872"/>
<rect x="686.78" y="1967.94" width="40.46" height="40.38" fill="#185c72"/>
<rect x="726.64" y="1967.94" width="40.46" height="40.38" fill="#144068"/>
<rect x="766.50" y="1967.94" width="40.46" height="40.38" fill="#153864"/>
<rect x="806.36" y="1967.94" width="40.46" height="40.38" fill="#14506e"/>
<rect x="846.22" y="1967.94" width="40.46" height="40.38" fill="#1f6474"/>
<rect x="886.08" y="1967.94" width="40.46" height="40.38" fill="#3f7872"/>
<rect x="925.94" y="1967.94" width="40.46" height="40.38" fill="#4a7c72"/>
<rect x="168.60" y="2007.73" width="40.46" height="40.39" fill="#161f59"/>
<rect x="208.46" y="2007.73" width="40.46" height="40.39" fill="#153062"/>
<rect x="248.32" y="2007.73" width="40.46" height="40.39" fill="#121b51"/>
<rect x="288.18" y="2007.73" width="80.32" height="40.39" fill="#050e37"/>
<rect x="367.90" y="2007.73" width="40.46" height="40.39" fill="#0c1645"/>
<rect x="407.76" y="2007.73" width="40.46" height="40.39" fill="#121b51"/>
<rect x="447.62" y="2007.73" width="40.46" height="40.39" fill="#161f59"/>
<rect x="487.48" y="2007.73" width="40.46" height="40.39" fill="#144068"/>
<rect x="527.34" y="2007.73" width="40.46" height="40.39" fill="#357472"/>
<rect x="567.20" y="2007.73" width="80.32" height="40.39" fill="#949a72"/>
<rect x="646.92" y="2007.73" width="40.46" height="40.39" fill="#4a7c72"/>
<rect x="686.78" y="2007.73" width="40.46" height="40.39" fill="#185c72"/>
<rect x="726.64" y="2007.73" width="80.32" height="40.39" fill="#14506e"/>
<rect x="806.36" y="2007.73" width="40.46" height="40.39" fill="#165771"/>
<rect x="846.22" y="2007.73" width="40.46" height="40.39" fill="#256a74"/>
<rect x="886.08" y="2007.73" width="40.46" height="40.39" fill="#82936b"/>
<rect x="925.94" y="2007.73" width="40.46" height="40.39" fill="#98997c"/>
<rect x="168.60" y="2047.52" width="80.32" height="40.38" fill="#0c1645"/>
<rect x="248.32" y="2047.52" width="40.46" height="40.38" fill="#0a1540"/>
<rect x="288.18" y="2047.52" width="80.32" height="40.38" fill="#050e37"/>
<rect x="367.90" y="2047.52" width="40.46" height="40.38" fill="#0c1645"/>
<rect x="407.76" y="2047.52" width="40.46" height="40.38" fill="#161f59"/>
<rect x="447.62" y="2047.52" width="40.46" height="40.38" fill="#153864"/>
<rect x="487.48" y="2047.52" width="40.46" height="40.38" fill="#14506e"/>
<rect x="527.34" y="2047.52" width="40.46" height="40.38" fill="#185c72"/>
<rect x="567.20" y="2047.52" width="40.46" height="40.38" fill="#527f71"/>
<rect x="607.06" y="2047.52" width="40.46" height="40.38" fill="#64866e"/>
<rect x="646.92" y="2047.52" width="40.46" height="40.38" fill="#2d7074"/>
<rect x="686.78" y="2047.52" width="160.04" height="40.38" fill="#14506e"/>
<rect x="846.22" y="2047.52" width="40.46" height="40.38" fill="#256a74"/>
<rect x="886.08" y="2047.52" width="40.46" height="40.38" fill="#708c6d"/>
<rect x="925.94" y="2047.52" width="40.46" height="40.38" fill="#999980"/>
</g>
<polygon points="528.4,1571.0 647.1,1571.0 647.1,1731.3 528.4,1731.3" fill="none" stroke="#ff0a46" stroke-width="7.2" stroke-linejoin="miter"/>
<g clip-path="url(#cp2)">
<circle cx="185.0" cy="1310.8" r="5.25" fill="#d2691e"/>
<circle cx="170.0" cy="1398.3" r="2.00" fill="#d2691e"/>
<circle cx="374.0" cy="1412.7" r="3.15" fill="#d2691e"/>
<circle cx="533.3" cy="1442.8" r="3.85" fill="#d2691e"/>
<circle cx="464.3" cy="1484.8" r="3.15" fill="#d2691e"/>
<circle cx="476.6" cy="1490.0" r="3.00" fill="#d2691e"/>
<circle cx="238.2" cy="1560.0" r="3.15" fill="#d2691e"/>
<circle cx="252.9" cy="1579.3" r="4.00" fill="#d2691e"/>
<circle cx="287.6" cy="1615.0" r="2.80" fill="#d2691e"/>
<circle cx="472.8" cy="1621.8" r="3.20" fill="#d2691e"/>
<circle cx="484.0" cy="1638.6" r="5.00" fill="#d2691e"/>
<circle cx="526.4" cy="1599.4" r="2.30" fill="#d2691e"/>
<circle cx="469.2" cy="1693.6" r="2.80" fill="#d2691e"/>
<circle cx="620.9" cy="1328.7" r="4.90" fill="#d2691e"/>
<circle cx="647.5" cy="1310.8" r="2.50" fill="#d2691e"/>
<circle cx="695.1" cy="1353.2" r="2.80" fill="#d2691e"/>
<circle cx="868.4" cy="1373.5" r="3.00" fill="#d2691e"/>
<circle cx="838.3" cy="1395.5" r="3.00" fill="#d2691e"/>
<circle cx="947.8" cy="1401.5" r="2.80" fill="#d2691e"/>
<circle cx="853.3" cy="1486.2" r="2.80" fill="#d2691e"/>
<circle cx="860.3" cy="1489.3" r="2.80" fill="#d2691e"/>
<circle cx="742.7" cy="1524.0" r="2.80" fill="#d2691e"/>
<circle cx="788.6" cy="1579.0" r="2.50" fill="#d2691e"/>
<circle cx="628.0" cy="1615.0" r="3.00" fill="#d2691e"/>
<circle cx="601.6" cy="1682.6" r="3.30" fill="#d2691e"/>
<circle cx="855.0" cy="1676.6" r="2.50" fill="#d2691e"/>
<circle cx="821.8" cy="1692.3" r="2.80" fill="#d2691e"/>
<circle cx="915.6" cy="1688.8" r="2.80" fill="#d2691e"/>
<circle cx="355.5" cy="1705.2" r="3.50" fill="#d2691e"/>
<circle cx="231.9" cy="1743.4" r="4.00" fill="#d2691e"/>
<circle cx="415.0" cy="1761.2" r="3.15" fill="#d2691e"/>
<circle cx="296.0" cy="1782.2" r="2.80" fill="#d2691e"/>
<circle cx="437.7" cy="1806.0" r="3.50" fill="#d2691e"/>
<circle cx="445.8" cy="1809.5" r="3.85" fill="#d2691e"/>
<circle cx="437.7" cy="1824.2" r="3.50" fill="#d2691e"/>
<circle cx="469.2" cy="1869.4" r="2.50" fill="#d2691e"/>
<circle cx="536.0" cy="1867.3" r="2.80" fill="#d2691e"/>
<circle cx="228.8" cy="2017.0" r="2.80" fill="#d2691e"/>
<circle cx="808.2" cy="1738.5" r="2.50" fill="#d2691e"/>
<circle cx="721.7" cy="1840.7" r="3.50" fill="#d2691e"/>
<circle cx="788.2" cy="1884.0" r="3.50" fill="#d2691e"/>
<circle cx="917.0" cy="1878.1" r="3.85" fill="#d2691e"/>
<circle cx="755.7" cy="1929.2" r="3.15" fill="#d2691e"/>
<circle cx="731.5" cy="1994.3" r="3.15" fill="#d2691e"/>
<circle cx="611.8" cy="2026.5" r="9.10" fill="#d2691e"/>
<circle cx="819.0" cy="2030.4" r="3.15" fill="#d2691e"/>
<circle cx="870.5" cy="2030.4" r="3.15" fill="#d2691e"/>
<circle cx="754.3" cy="2053.8" r="4.00" fill="#d2691e"/>
<circle cx="869.8" cy="2070.0" r="3.50" fill="#d2691e"/>
<circle cx="955.4" cy="2055.4" r="9.80" fill="#d2691e"/>
<circle cx="574.6" cy="1650.7" r="8.50" fill="#ff0a46"/>
<text class="sl" x="192.9" y="1300.2">52</text>
<text class="sl" x="177.9" y="1387.7">47</text>
<text class="sl" x="381.9" y="1402.1">24</text>
<text class="sl" x="541.2" y="1432.2">12</text>
<text class="sl" x="472.2" y="1474.2">9</text>
<text class="sl" x="484.5" y="1479.4">7</text>
<text class="sl" x="246.1" y="1549.4">34</text>
<text class="sl" x="260.8" y="1568.7">29</text>
<text class="sl" x="295.5" y="1604.4">23</text>
<text class="sl" x="480.7" y="1611.2">5</text>
<text class="sl" x="491.9" y="1628.0">4</text>
<text class="sl" x="534.3" y="1588.8">3</text>
<text class="sl" x="477.1" y="1683.0">6</text>
<text class="sl" x="628.8" y="1318.1">30</text>
<text class="sl" x="655.4" y="1300.2">35</text>
<text class="sl" x="703.0" y="1342.6">27</text>
<text class="sl" x="876.3" y="1362.9">43</text>
<text class="sl" x="846.2" y="1384.9">37</text>
<text class="sl" x="955.7" y="1390.9">46</text>
<text class="sl" x="861.2" y="1475.6">28</text>
<text class="sl" x="868.2" y="1478.7">32</text>
<text class="sl" x="750.6" y="1513.4">13</text>
<text class="sl" x="796.5" y="1568.4">17</text>
<text class="sl" x="635.9" y="1604.4">2</text>
<text class="sl" x="609.5" y="1672.0">1</text>
<text class="sl" x="862.9" y="1666.0">22</text>
<text class="sl" x="829.7" y="1681.7">21</text>
<text class="sl" x="923.5" y="1678.2">33</text>
<text class="sl" x="363.4" y="1694.6">16</text>
<text class="sl" x="239.8" y="1732.8">36</text>
<text class="sl" x="422.9" y="1750.6">8</text>
<text class="sl" x="303.9" y="1771.6">25</text>
<text class="sl" x="445.6" y="1795.4">11</text>
<text class="sl" x="453.7" y="1798.9">10</text>
<text class="sl" x="445.6" y="1813.6">15</text>
<text class="sl" x="477.1" y="1858.8">19</text>
<text class="sl" x="543.9" y="1856.7">14</text>
<text class="sl" x="236.7" y="2006.4">51</text>
<text class="sl" x="816.1" y="1727.9">20</text>
<text class="sl" x="729.6" y="1830.1">18</text>
<text class="sl" x="796.1" y="1873.4">26</text>
<text class="sl" x="924.9" y="1867.5">41</text>
<text class="sl" x="763.6" y="1918.6">31</text>
<text class="sl" x="739.4" y="1983.7">38</text>
<text class="sl" x="619.7" y="2015.9">39</text>
<text class="sl" x="826.9" y="2019.8">45</text>
<text class="sl" x="878.4" y="2019.8">48</text>
<text class="sl" x="762.2" y="2043.2">44</text>
<text class="sl" x="877.7" y="2059.4">50</text>
<text class="sl" x="961.1" y="2044.8">42</text>
</g>
<rect class="sp" x="169.1" y="1292.0" width="797.0" height="795.7"/>
<line class="tk" x1="328.2" y1="2089.2" x2="328.2" y2="2104.8"/>
<text class="t28" text-anchor="middle" x="327.4" y="2146.4">1265</text>
<line class="tk" x1="527.6" y1="2089.2" x2="527.6" y2="2104.8"/>
<text class="t28" text-anchor="middle" x="526.8" y="2146.4">1270</text>
<line class="tk" x1="726.9" y1="2089.2" x2="726.9" y2="2104.8"/>
<text class="t28" text-anchor="middle" x="726.1" y="2146.4">1275</text>
<line class="tk" x1="926.4" y1="2089.2" x2="926.4" y2="2104.8"/>
<text class="t28" text-anchor="middle" x="925.6" y="2146.4">1280</text>
<line class="tk" x1="167.6" y1="1292.0" x2="152.2" y2="1292.0"/>
<text class="t28" text-anchor="end" x="133.9" y="1305.2">1210</text>
<line class="tk" x1="167.6" y1="1491.0" x2="152.2" y2="1491.0"/>
<text class="t28" text-anchor="end" x="133.9" y="1504.2">1205</text>
<line class="tk" x1="167.6" y1="1689.8" x2="152.2" y2="1689.8"/>
<text class="t28" text-anchor="end" x="133.9" y="1703.0">1200</text>
<line class="tk" x1="167.6" y1="1888.7" x2="152.2" y2="1888.7"/>
<text class="t28" text-anchor="end" x="133.9" y="1901.9">1195</text>
<line class="tk" x1="167.6" y1="2087.6" x2="152.2" y2="2087.6"/>
<text class="t28" text-anchor="end" x="133.9" y="2100.8">1190</text>
<text class="t38" text-anchor="middle" x="567.4" y="2201.4">CCD Column</text>
<text class="t38" text-anchor="middle" transform="translate(33.7,1693.0) rotate(-90)">CCD Row</text>
<rect x="993.8" y="1292.0" width="39.4" height="795.7" fill="url(#cb)" stroke="#000" stroke-width="3.7"/>
<line class="tk" x1="1034.7" y1="1295.6" x2="1050.4" y2="1295.6"/>
<text class="t28" x="1067.5" y="1309.0">4500</text>
<line class="tk" x1="1034.7" y1="1312.6" x2="1050.4" y2="1312.6"/>
<text class="t28" x="1067.5" y="1326.0">4000</text>
<line class="tk" x1="1034.7" y1="1333.2" x2="1050.4" y2="1333.2"/>
<text class="t28" x="1067.5" y="1346.6">3500</text>
<line class="tk" x1="1034.7" y1="1355.4" x2="1050.4" y2="1355.4"/>
<text class="t28" x="1067.5" y="1368.8">3000</text>
<line class="tk" x1="1034.7" y1="1382.7" x2="1050.4" y2="1382.7"/>
<text class="t28" x="1067.5" y="1396.1">2500</text>
<line class="tk" x1="1034.7" y1="1415.7" x2="1050.4" y2="1415.7"/>
<text class="t28" x="1067.5" y="1429.1">2000</text>
<line class="tk" x1="1034.7" y1="1460.6" x2="1050.4" y2="1460.6"/>
<text class="t28" x="1067.5" y="1474.0">1500</text>
<line class="tk" x1="1034.7" y1="1522.4" x2="1050.4" y2="1522.4"/>
<text class="t28" x="1067.5" y="1535.8">1000</text>
<line class="tk" x1="1034.7" y1="1639.3" x2="1050.4" y2="1639.3"/>
<text class="t28" x="1067.5" y="1652.7">500</text>
<text class="t38" text-anchor="middle" transform="translate(1187.2,1694.6) rotate(-90)">log(Flux)</text>
<text class="t38" text-anchor="middle" x="368.3" y="1166.0">TIC 269333648</text>
<text class="th" x="293.2" y="1200.2">Sector: 34</text>
<text class="th" x="293.2" y="1233.6">Cam:</text>
<text class="t28" x="413.6" y="1233.6">3</text>
<text class="th" x="293.2" y="1268.0">CCD:</text>
<text class="t28" x="413.6" y="1268.0">4</text>
<text class="t28" x="739.1" y="1171.1"><tspan font-family="'DejaVu Sans','Liberation Sans',sans-serif" font-style="italic">G</tspan><tspan font-family="'DejaVu Sans','Liberation Sans',sans-serif" font-style="italic" font-size="19.8px" dy="4.2" letter-spacing="1.2">RP</tspan></text>
<text class="th" style="font-size:28.7px" x="795.7" y="1171.1">Magnitude</text>
<circle cx="650.6" cy="1208.5" r="20.75" fill="#d2691e"/>
<text class="t28" x="702.1" y="1217.8">6</text>
<circle cx="650.6" cy="1252.1" r="14.00" fill="#d2691e"/>
<text class="t28" x="702.1" y="1261.4">8</text>
<circle cx="806.6" cy="1208.5" r="9.35" fill="#d2691e"/>
<text class="t28" x="859.4" y="1217.8" letter-spacing="-1.5">10</text>
<circle cx="806.6" cy="1252.1" r="5.85" fill="#d2691e"/>
<text class="t28" x="859.4" y="1261.4" letter-spacing="-1.5">12</text>
<circle cx="980.4" cy="1208.5" r="4.15" fill="#d2691e"/>
<text class="t28" x="1031.6" y="1217.8" letter-spacing="-1.5">14</text>
<circle cx="980.4" cy="1252.1" r="2.50" fill="#d2691e"/>
<text class="t28" x="1031.6" y="1261.4" letter-spacing="-1.5">16</text>
</g>
</g>
</svg></body></html>
